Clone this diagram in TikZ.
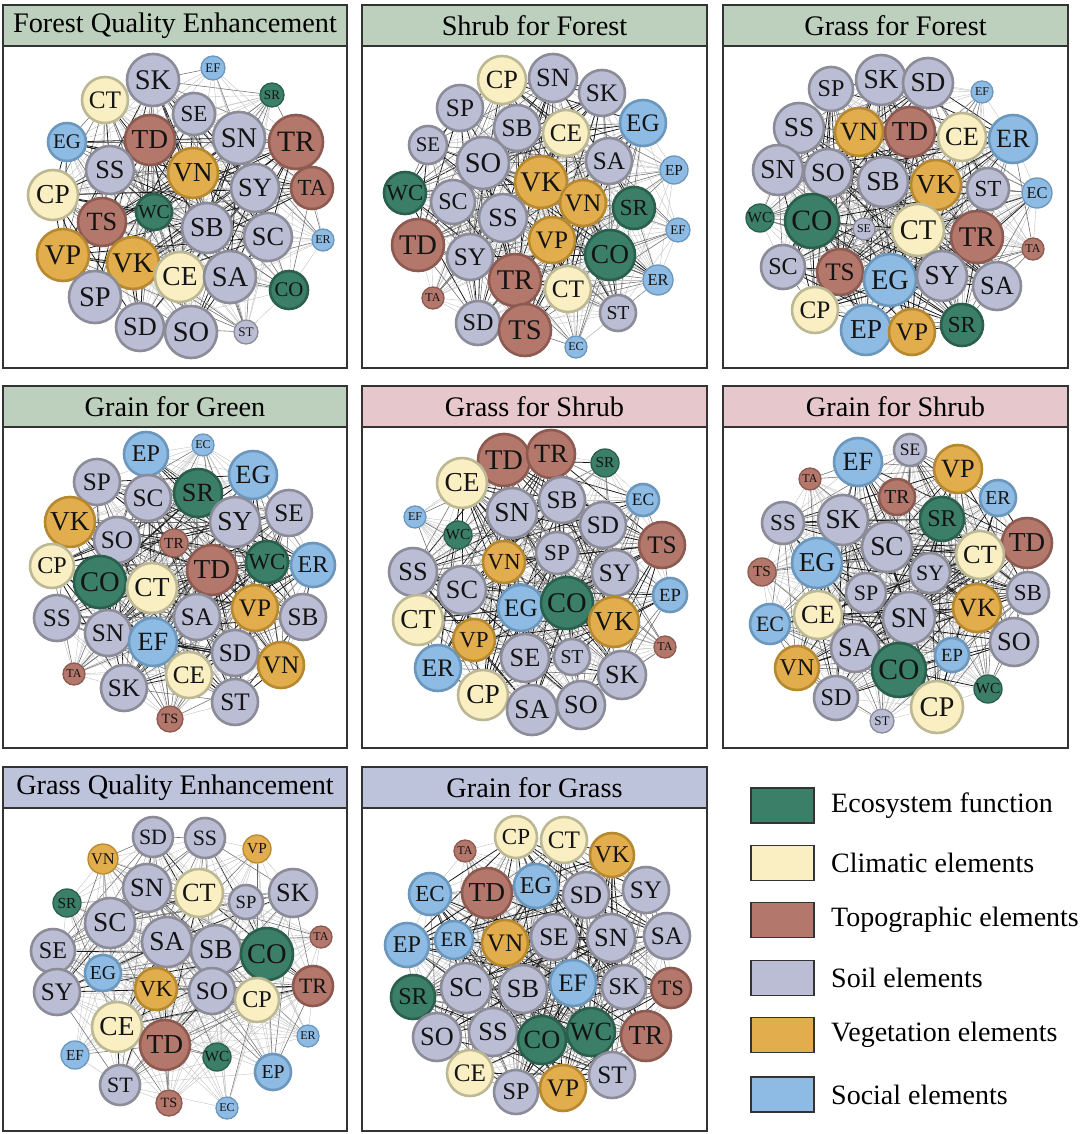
\documentclass[tikz,border=0pt]{standalone}
\usepackage{fontspec}
\setmainfont{Liberation Serif}
\pgfdeclarelayer{bg}
\pgfsetlayers{bg,main}
\definecolor{ecF}{HTML}{3B7F68}\definecolor{ecD}{HTML}{2B5F4D}
\definecolor{clF}{HTML}{FAEFC3}\definecolor{clD}{HTML}{BCB893}
\definecolor{tpF}{HTML}{B4776B}\definecolor{tpD}{HTML}{8C5A50}
\definecolor{soF}{HTML}{BBBDD5}\definecolor{soD}{HTML}{8B8C98}
\definecolor{veF}{HTML}{E2AD4D}\definecolor{veD}{HTML}{B6882F}
\definecolor{scF}{HTML}{8EBBE3}\definecolor{scD}{HTML}{6B97BD}
\definecolor{hGreen}{HTML}{BDCFBD}
\definecolor{hPink}{HTML}{E6C7CC}
\definecolor{hBlue}{HTML}{BDC3DA}
\definecolor{frameC}{HTML}{333333}
\tikzset{
  nd/.style={circle, inner sep=0pt, text=black!92},
  ndec/.style={fill=ecF, draw=ecD},
  ndcl/.style={fill=clF, draw=clD},
  ndtp/.style={fill=tpF, draw=tpD},
  ndso/.style={fill=soF, draw=soD},
  ndve/.style={fill=veF, draw=veD},
  ndsc/.style={fill=scF, draw=scD},
  eA/.style={black!90, line width=0.8pt},
  eB/.style={black!58, line width=0.55pt},
  eC/.style={black!24, line width=0.4pt},
  hdr/.style={rectangle, draw=frameC, line width=1.3pt, inner sep=0pt,
    minimum height=41pt, font=\fontsize{28.3}{30}\selectfont},
  frm/.style={rectangle, draw=frameC, line width=1.3pt, inner sep=0pt},
  sw/.style={rectangle, draw=black!80, line width=1.2pt, minimum width=63pt, minimum height=35pt, inner sep=0pt},
  lgt/.style={anchor=west, inner sep=0pt, font=\fontsize{28}{30}\selectfont}
}
\newcommand\netnodes[2]{%
  \foreach \n/\x/\y/\r/\t in #2 {%
    \pgfmathsetmacro\ms{2*\r+2}%
    \pgfmathsetmacro\lw{\r<15 ? 1.3 : 2.6}%
    \pgfmathsetmacro\fs{1.1*\r+1}%
    \node[nd, nd\t, minimum size=\ms pt, line width=\lw pt,
      font=\fontsize{\fs}{\fs}\selectfont] (#1\n) at (\x,\y) {\n};
  }}
\newcommand\netedges[3]{%
  \begin{pgfonlayer}{bg}
  \foreach \a/\xa/\ya/\ra/\ta [count=\i] in #2 {%
    \foreach \b/\xb/\yb/\rb/\tb [count=\j] in #2 {%
      \ifnum\j>\i\relax
        \pgfmathsetmacro\w{max(\ra+\rb-18,0)/34*rnd*#3}%
        \ifdim\w pt>0.55pt \draw[eA] (#1\a) -- (#1\b);%
        \else\ifdim\w pt>0.33pt \draw[eB] (#1\a) -- (#1\b);%
        \else\ifdim\w pt>0.12pt \draw[eC] (#1\a) -- (#1\b);%
        \fi\fi\fi
      \fi
    }%
  }%
  \end{pgfonlayer}}
\def\LA{SK/153/80/25/so, EF/213/68/11/sc, SR/272/95/11/ec, CT/105/100/22/cl, SE/194/114/20/so, EG/67/142/18/sc, TD/150/140/24/tp, SN/239/138/25/so, TR/296/142/26/tp, SS/110/170/23/so, VN/193/173/24/ve, SY/255/188/23/so, TA/312/188/20/tp, CP/53/195/24/cl, WC/154/212/17/ec, TS/102/222/23/tp, SB/207/228/24/so, SC/268/237/23/so, ER/323/240/10/sc, VP/63/255/25/ve, VK/133/263/25/ve, CE/180/277/24/cl, SA/230/277/25/so, CO/289/290/18/ec, SP/95/297/25/so, SD/140/327/23/so, SO/191/332/25/so, ST/246/332/11/so}
\def\LB{CP/502/80/23/cl, SN/553/78/23/so, SK/602/93/22/so, SP/460/108/22/so, EG/643/123/22/sc, SB/517/128/22/so, CE/566/133/22/cl, SE/428/145/18/so, SO/483/163/25/so, SA/609/161/22/so, EP/674/170/13/sc, VK/541/182/25/ve, WC/405/193/20/ec, SC/453/202/21/so, VN/583/203/22/ve, SR/634/208/20/ec, SS/503/218/23/so, EF/678/230/11/sc, TD/418/245/25/tp, VP/552/240/22/ve, CO/610/255/24/ec, SY/470/257/22/so, TR/515/280/25/tp, CT/568/289/22/cl, ER/658/280/14/sc, TA/433/298/10/tp, ST/618/313/17/so, SD/478/323/21/so, TS/525/330/25/tp, EC/576/347/10/sc}
\def\LC{SP/831/89/21/so, SK/881/80/24/so, SD/928/83/24/so, EF/982/92/10/sc, SS/799/128/24/so, VN/859/132/23/ve, TD/910/132/24/tp, CE/962/137/23/cl, ER/1013/139/23/sc, SN/778/170/24/so, SO/828/173/23/so, SB/883/182/24/so, VK/936/185/24/ve, ST/988/189/20/so, EC/1037/193/14/sc, WC/760/218/13/ec, CO/812/221/26/ec, SE/864/229/10/so, CT/918/230/25/cl, TR/977/237/25/tp, TA/1033/249/10/tp, SC/783/267/21/so, TS/840/272/22/tp, EG/890/280/25/sc, SY/942/276/24/so, SA/997/286/23/so, CP/815/310/22/cl, EP/866/330/24/sc, VP/912/332/22/ve, SR/962/325/20/ec}
\def\LD{EP/146/454/21/sc, EC/203/445/10/sc, EG/253/475/23/sc, SP/97/482/22/so, SC/148/498/22/so, SR/198/493/23/ec, SE/289/513/22/so, VK/70/522/24/ve, SY/235/522/24/so, SO/117/540/22/so, TR/174/543/13/tp, CP/52/566/21/cl, TD/212/570/24/tp, WC/267/562/20/ec, ER/313/565/21/sc, CO/100/582/25/ec, CT/152/588/24/cl, SA/197/617/22/so, VP/255/608/22/ve, SB/303/617/22/so, SS/57/618/22/so, SN/108/633/22/so, EF/153/642/23/sc, SD/235/653/22/so, VN/281/665/22/ve, TA/74/674/10/tp, CE/189/675/22/cl, SK/124/688/22/so, ST/235/702/22/so, TS/170/719/12/tp}
\def\LE{TD/504/460/25/tp, TR/551/454/23/tp, SR/605/463/13/ec, CE/462/483/24/cl, SB/562/500/22/so, EC/643/500/15/sc, SN/512/513/24/so, EF/415/517/10/sc, SD/603/525/22/so, WC/458/535/13/ec, TS/662/545/22/tp, SP/557/553/20/so, VN/504/562/20/ve, SS/413/572/23/so, SY/615/573/22/so, SC/462/590/23/so, EP/670/595/16/sc, EG/521/608/22/sc, CO/567/603/25/ec, CT/418/620/24/cl, VK/614/622/24/ve, VP/474/640/20/ve, TA/665/647/10/tp, SE/525/658/23/so, ST/572/657/17/so, ER/438/668/22/sc, SK/622/675/23/so, CP/483/695/24/cl, SA/532/710/24/so, SO/581/705/23/so}
\def\LF{SE/910/450/15/so, EF/858/462/23/sc, VP/958/469/23/ve, TA/810/479/10/tp, TR/897/497/17/tp, ER/998/498/17/sc, SS/783/523/20/so, SK/843/520/24/so, SR/942/519/21/ec, TD/1027/543/24/tp, SC/887/547/24/so, CT/980/555/23/cl, EG/817/563/24/sc, TS/762/572/13/tp, SY/930/573/19/so, SP/866/593/19/so, SB/1028/593/20/so, VK/977/608/23/ve, CE/818/615/23/cl, SN/909/618/25/so, EC/770/624/19/sc, SO/1014/642/23/so, SA/855/648/23/so, EP/952/655/16/sc, VN/797/668/21/ve, CO/899/670/26/ec, WC/988/689/13/ec, SD/836/698/21/so, CP/937/707/25/cl, ST/882/721/11/so}
\def\LG{SD/153/837/19/so, SS/205/838/19/so, VP/257/849/13/ve, VN/103/859/14/ve, SN/147/888/23/so, CT/199/893/23/cl, SK/293/893/23/so, SP/246/902/16/so, SR/67/903/13/ec, SC/110/923/24/so, SA/167/942/24/so, SB/216/950/24/so, CO/267/954/25/ec, SE/53/951/21/so, TA/321/937/10/tp, EG/103/973/17/sc, TR/313/986/19/tp, VK/156/989/20/ve, SY/57/992/22/so, SO/212/991/22/so, CP/257/1000/21/cl, CE/117/1027/24/cl, ER/308/1036/10/sc, TD/165/1045/24/tp, WC/217/1057/13/ec, EF/75/1055/13/sc, EP/273/1072/17/sc, ST/120/1085/19/so, TS/169/1103/12/tp, EC/227/1108/10/sc}
\def\LH{TA/465/851/10/tp, CP/516/837/20/cl, CT/564/840/22/cl, VK/612/855/21/ve, EC/430/894/20/sc, TD/487/893/24/tp, EG/536/886/21/sc, SD/586/895/22/so, SY/646/890/22/so, EP/407/945/21/sc, ER/454/940/18/sc, VN/505/943/22/ve, SE/554/937/22/so, SN/611/938/23/so, SA/667/936/22/so, SR/413/997/21/ec, SC/466/988/24/so, SB/523/989/23/so, EF/573/983/22/sc, SK/624/987/21/so, TS/671/988/19/tp, SO/437/1037/23/so, SS/493/1032/23/so, CO/542/1040/23/ec, WC/591/1032/23/ec, TR/646/1036/24/tp, CE/470/1073/22/cl, SP/516/1092/21/so, VP/563/1088/22/ve, ST/612/1075/22/so}
\begin{document}
\begin{tikzpicture}[x=1pt, y=-1pt]
\pgfmathsetseed{11}
\useasboundingbox (0,0) rectangle (1080,1134);
% headers
\node[hdr, fill=hGreen, minimum width=344pt] (h1) at (175,25.5) {Forest Quality Enhancement};
\node[hdr, fill=hGreen, minimum width=345pt] (h2) at (534.5,25.5) {Shrub for Forest};
\node[hdr, fill=hGreen, minimum width=345pt] (h3) at (895.5,25.5) {Grass for Forest};
\node[hdr, fill=hGreen, minimum width=344pt] (h4) at (175,406.5) {Grain for Green};
\node[hdr, fill=hPink, minimum width=345pt] (h5) at (534.5,406.5) {Grass for Shrub};
\node[hdr, fill=hPink, minimum width=345pt] (h6) at (895.5,406.5) {Grain for Shrub};
\node[hdr, fill=hBlue, minimum width=344pt] (h7) at (175,787.5) {Grass Quality Enhancement};
\node[hdr, fill=hBlue, minimum width=345pt] (h8) at (534.5,787.5) {Grain for Grass};
% frames
\node[frm, minimum width=344pt, minimum height=322pt] (f1) at (175,207) {};
\node[frm, minimum width=345pt, minimum height=322pt] (f2) at (534.5,207) {};
\node[frm, minimum width=345pt, minimum height=322pt] (f3) at (895.5,207) {};
\node[frm, minimum width=344pt, minimum height=321pt] (f4) at (175,587.5) {};
\node[frm, minimum width=345pt, minimum height=321pt] (f5) at (534.5,587.5) {};
\node[frm, minimum width=345pt, minimum height=321pt] (f6) at (895.5,587.5) {};
\node[frm, minimum width=344pt, minimum height=323pt] (f7) at (175,969.5) {};
\node[frm, minimum width=345pt, minimum height=323pt] (f8) at (534.5,969.5) {};
% networks
\netnodes{A}{\LA}\netedges{A}{\LA}{1}
\netnodes{B}{\LB}\netedges{B}{\LB}{1}
\netnodes{C}{\LC}\netedges{C}{\LC}{1}
\netnodes{D}{\LD}\netedges{D}{\LD}{1}
\netnodes{E}{\LE}\netedges{E}{\LE}{1}
\netnodes{F}{\LF}\netedges{F}{\LF}{1}
\netnodes{G}{\LG}\netedges{G}{\LG}{0.85}
\netnodes{H}{\LH}\netedges{H}{\LH}{1}
% legend
\node[sw, fill=ecF] (s1) at (782.5,805.5) {};
\node[lgt] (l1) at (831,805.5) {Ecosystem function};
\node[sw, fill=clF] (s2) at (782.5,863) {};
\node[lgt] (l2) at (831,863) {Climatic elements};
\node[sw, fill=tpF] (s3) at (782.5,920) {};
\node[lgt] (l3) at (831,920) {Topographic elements};
\node[sw, fill=soF] (s4) at (782.5,978) {};
\node[lgt] (l4) at (831,978) {Soil elements};
\node[sw, fill=veF] (s5) at (782.5,1035) {};
\node[lgt] (l5) at (831,1035) {Vegetation elements};
\node[sw, fill=scF] (s6) at (782.5,1094.5) {};
\node[lgt] (l6) at (831,1094.5) {Social elements};
\end{tikzpicture}
\end{document}
